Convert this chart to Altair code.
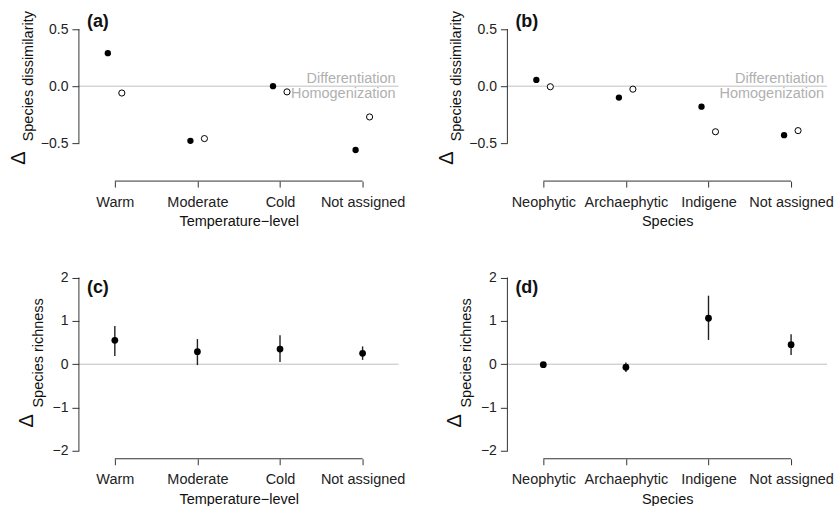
import altair as alt
import pandas as pd

# ---------------- data ----------------
cats_temp = ["Warm", "Moderate", "Cold", "Not assigned"]
cats_species = ["Neophytic", "Archaephytic", "Indigene", "Not assigned"]

# (a) change in species dissimilarity by temperature level
a_filled = [0.29, -0.48, 0.0, -0.56]
a_open = [-0.06, -0.46, -0.05, -0.27]
# (b) change in species dissimilarity by species group
b_filled = [0.055, -0.10, -0.18, -0.43]
b_open = [-0.005, -0.026, -0.40, -0.39]
# (c) change in species richness by temperature level (mean, lower, upper)
c_mean = [0.55, 0.29, 0.35, 0.25]
c_lo = [0.19, -0.02, 0.05, 0.10]
c_hi = [0.88, 0.58, 0.67, 0.41]
# (d) change in species richness by species group
d_mean = [-0.01, -0.07, 1.06, 0.45]
d_lo = [-0.04, -0.18, 0.56, 0.21]
d_hi = [0.02, 0.04, 1.58, 0.69]

dis_ticks = [-0.5, 0.0, 0.5]
rich_ticks = [-2, -1, 0, 1, 2]

FONT = "Liberation Sans"
W = 320
H_DIS = 163
H_RICH = 188
DIS_DOM = [-0.833, 0.596]
RICH_DOM = [-2.18, 2.15]
AX = "#333333"
LAB = "#222222"
FS = 14.5


def x_enc(cats, title, field="cat"):
    return alt.X(
        f"{field}:N",
        scale=alt.Scale(type="point", domain=cats, padding=0.435),
        axis=alt.Axis(domain=False, ticks=True, tickSize=6, tickColor=AX, tickWidth=1,
                      labelPadding=8, labelFontSize=FS, labelColor=LAB, labelAngle=0,
                      labelAlign="center", labelBaseline="top", labelOverlap=False,
                      labelFont=FONT, titleFont=FONT, titleFontSize=FS, titleColor="#111111",
                      titleFontWeight="normal", titlePadding=6, grid=False),
        title=title,
    )


def y_enc(field, dom, ticks, fmt):
    return alt.Y(
        f"{field}:Q",
        scale=alt.Scale(domain=dom, nice=False, zero=False),
        axis=alt.Axis(values=ticks, format=fmt, domain=False, ticks=True, tickSize=7,
                      tickColor=AX, tickWidth=1, labelPadding=4, labelFontSize=14,
                      labelColor=LAB, labelFont=FONT, grid=False),
        title=None,
    )


def frame_layers(cats, dom, ticks, ytitle, tag, tag_y, title_pos, delta_pos):
    one = alt.Chart(pd.DataFrame({"k": [0]}))
    zero = one.mark_rule(color="#c0c0c0", strokeWidth=1).encode(y=alt.datum(0))
    yline = one.mark_rule(color=AX, strokeWidth=1).encode(
        x=alt.value(0), y=alt.datum(ticks[0]), y2=alt.datum(ticks[-1]))
    xline = one.mark_rule(color=AX, strokeWidth=1).encode(
        x=alt.datum(cats[0]), x2=alt.datum(cats[-1]), y=alt.datum(dom[0]))
    tag_t = one.mark_text(text=tag, font=FONT, fontSize=18, fontWeight="bold", align="left",
                          baseline="middle", color="#111111").encode(
        x=alt.value(8), y=alt.datum(tag_y))
    yt = one.mark_text(text=ytitle, font=FONT, fontSize=FS, angle=270, align="center",
                       baseline="middle", color="#111111").encode(
        x=alt.value(title_pos[0]), y=alt.value(title_pos[1]))
    dl = one.mark_text(text="Δ", font=FONT, fontSize=20, angle=270, align="center",
                       baseline="middle", color="#111111").encode(
        x=alt.value(delta_pos[0]), y=alt.value(delta_pos[1]))
    return [zero, yline, xline, tag_t, yt, dl]


def dissim_panel(cats, filled, opn, tag, xtitle):
    df = pd.DataFrame({"cat": cats, "filled": filled, "open": opn})
    base = alt.Chart(df)
    X = x_enc(cats, xtitle)
    pts_f = base.mark_point(filled=True, color="#000000", size=40, opacity=1, xOffset=-7).encode(
        x=X, y=y_enc("filled", DIS_DOM, dis_ticks, ".1f"))
    pts_o = base.mark_point(filled=False, fill="#ffffff", color="#000000", strokeWidth=1,
                            size=38, opacity=1, xOffset=7).encode(
        x=X, y=y_enc("open", DIS_DOM, dis_ticks, ".1f"))
    one = alt.Chart(pd.DataFrame({"k": [0]}))
    diff = one.mark_text(text="Differentiation", font=FONT, fontSize=FS, align="right",
                         baseline="alphabetic", dy=-3, color="#b0b0b0").encode(
        x=alt.value(W - 3), y=alt.datum(0))
    homo = one.mark_text(text="Homogenization", font=FONT, fontSize=FS, align="right",
                         baseline="alphabetic", dy=12, color="#b0b0b0").encode(
        x=alt.value(W - 3), y=alt.datum(0))
    frame = frame_layers(cats, DIS_DOM, dis_ticks, "Species dissimilarity", tag, 0.56,
                         (-50, 58), (-60, 140))
    return alt.layer(*frame[:3], pts_f, pts_o, diff, homo, *frame[3:]).properties(
        width=W, height=H_DIS)


def rich_panel(cats, mean, lo, hi, tag, xtitle):
    df = pd.DataFrame({"cat": cats, "mean": mean, "lo": lo, "hi": hi})
    base = alt.Chart(df)
    X = x_enc(cats, xtitle)
    bars = base.mark_rule(color="#222222", strokeWidth=1.4).encode(
        x=X, y=y_enc("lo", RICH_DOM, rich_ticks, "d"), y2="hi:Q")
    pts = base.mark_circle(color="#000000", size=46, opacity=1).encode(
        x=X, y=y_enc("mean", RICH_DOM, rich_ticks, "d"))
    frame = frame_layers(cats, RICH_DOM, rich_ticks, "Species richness", tag, 1.76,
                         (-40, 82), (-52, 150))
    return alt.layer(*frame[:3], bars, pts, *frame[3:]).properties(width=W, height=H_RICH)


pa = dissim_panel(cats_temp, a_filled, a_open, "(a)", "Temperature−level")
pb = dissim_panel(cats_species, b_filled, b_open, "(b)", "Species")
pc = rich_panel(cats_temp, c_mean, c_lo, c_hi, "(c)", "Temperature−level")
pd_ = rich_panel(cats_species, d_mean, d_lo, d_hi, "(d)", "Species")

chart = alt.concat(pa, pb, pc, pd_, columns=2, spacing={"row": 90, "column": 109},
                   bounds="flush").properties(
    padding={"left": 9, "top": 10, "right": 0, "bottom": 0},
    background="white",
).configure_view(stroke=None).configure_axis(grid=False)

chart.save("out.html", embed_options={"renderer": "svg", "actions": False})
